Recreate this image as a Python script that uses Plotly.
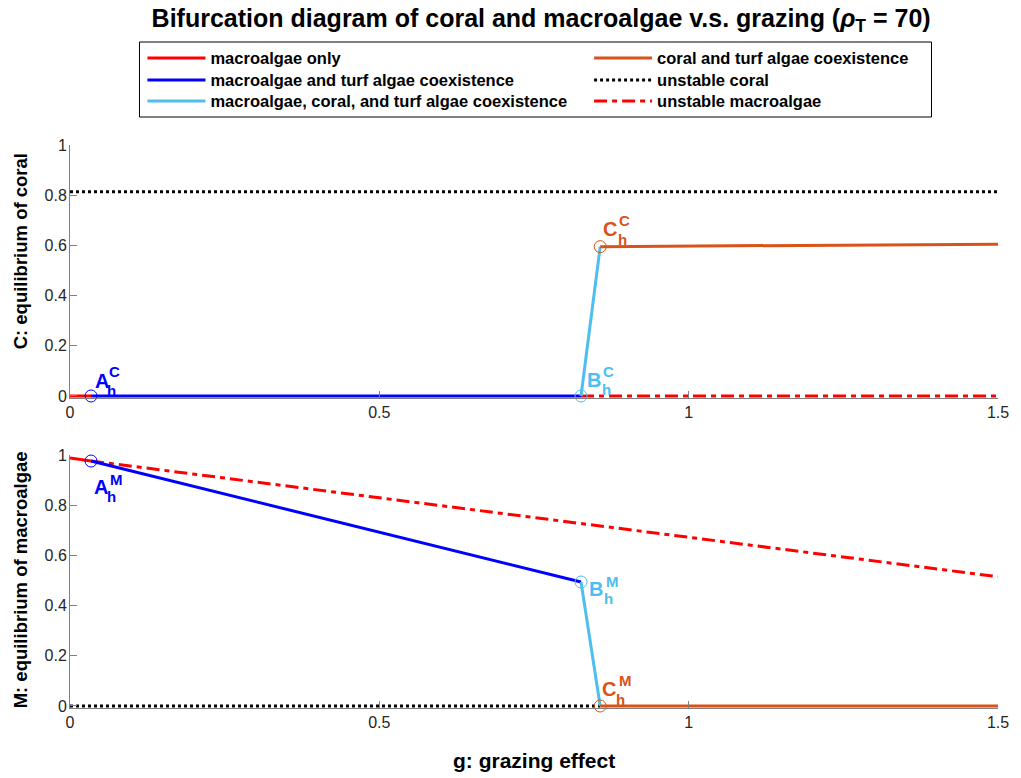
import plotly.graph_objects as go

# ---------------- data ----------------
# bifurcation points (grazing g)
g_A, g_B, g_C = 0.034, 0.826, 0.857

# macroalgae only
g_macro_only = [0.0, 0.034]
C_macro_only = [0.0, 0.0]
M_macro_only = [0.988, 0.976]

# macroalgae and turf algae coexistence
g_macro_turf = [0.034, 0.826]
C_macro_turf = [0.0, 0.0]
M_macro_turf = [0.976, 0.494]

# macroalgae, coral, and turf algae coexistence
g_mct = [0.826, 0.857]
C_mct = [0.0, 0.595]
M_mct = [0.494, 0.0]

# coral and turf algae coexistence
g_coral_turf = [0.857, 1.5]
C_coral_turf = [0.595, 0.605]
M_coral_turf = [0.0, 0.0]

# unstable coral
g_unst_coral_C = [0.0, 1.5]
C_unst_coral = [0.814, 0.814]
g_unst_coral_M = [0.0, 0.857]
M_unst_coral = [0.0, 0.0]

# unstable macroalgae
g_unst_macro_C = [0.826, 1.5]
C_unst_macro = [0.0, 0.0]
g_unst_macro_M = [0.034, 1.5]
M_unst_macro = [0.976, 0.515]

# labelled points: (name, g, C, M)
points = [("A", g_A, 0.0, 0.976), ("B", g_B, 0.0, 0.494), ("C", g_C, 0.595, 0.0)]

x_ticks = [0, 0.5, 1, 1.5]
x_tick_text = ["0", "0.5", "1", "1.5"]
y_ticks = [0, 0.2, 0.4, 0.6, 0.8, 1]
y_tick_text = ["0", "0.2", "0.4", "0.6", "0.8", "1"]

# ---------------- style ----------------
RED = "#FF0000"
BLUE = "#0000FF"
LBLUE = "#4DBEEE"
ORANGE = "#D95319"
BLACK = "#000000"
FONT = "Liberation Sans, Arial, Helvetica, sans-serif"
LW = 3
W, H = 1021, 778
L, R, T, B = 70, 16, 145, 70
plot_h = H - T - B
plot_w = W - L - R

def py(pix):  # pixel y -> paper y
    return (H - B - pix) / plot_h

def px(pix):  # pixel x -> paper x
    return (pix - L) / plot_w

fig = go.Figure()

def add_line(xs, ys, color, name, dash, xa, ya, legend, show):
    fig.add_trace(go.Scatter(
        x=xs, y=ys, mode="lines", name=name,
        line=dict(color=color, width=LW, dash=dash),
        xaxis=xa, yaxis=ya, legend=legend,
        showlegend=show, legendgroup=name, hoverinfo="skip"))

DOT = "3px,3px"
DASHDOT = "13px,5px,5px,5px"

# top panel (C)
add_line(g_unst_coral_C, C_unst_coral, BLACK, "unstable coral", DOT, "x", "y", "legend5", True)
add_line(g_unst_macro_C, C_unst_macro, RED, "unstable macroalgae", DASHDOT, "x", "y", "legend6", True)
add_line(g_macro_only, C_macro_only, RED, "macroalgae only", "solid", "x", "y", "legend", True)
add_line(g_macro_turf, C_macro_turf, BLUE, "macroalgae and turf algae coexistence", "solid", "x", "y", "legend2", True)
add_line(g_mct, C_mct, LBLUE, "macroalgae, coral, and turf algae coexistence", "solid", "x", "y", "legend3", True)
add_line(g_coral_turf, C_coral_turf, ORANGE, "coral and turf algae coexistence", "solid", "x", "y", "legend4", True)

# bottom panel (M)
add_line(g_unst_coral_M, M_unst_coral, BLACK, "unstable coral", DOT, "x2", "y2", "legend5", False)
add_line(g_macro_only, M_macro_only, RED, "macroalgae only", "solid", "x2", "y2", "legend", False)
add_line(g_unst_macro_M, M_unst_macro, RED, "unstable macroalgae", DASHDOT, "x2", "y2", "legend6", False)
add_line(g_macro_turf, M_macro_turf, BLUE, "macroalgae and turf algae coexistence", "solid", "x2", "y2", "legend2", False)
add_line(g_mct, M_mct, LBLUE, "macroalgae, coral, and turf algae coexistence", "solid", "x2", "y2", "legend3", False)
add_line(g_coral_turf, M_coral_turf, ORANGE, "coral and turf algae coexistence", "solid", "x2", "y2", "legend4", False)

pt_colors = {"A": BLUE, "B": LBLUE, "C": ORANGE}
for name, g, c, m in points:
    for xa, ya, val in (("x", "y", c), ("x2", "y2", m)):
        fig.add_trace(go.Scatter(
            x=[g], y=[val], mode="markers", showlegend=False, hoverinfo="skip",
            marker=dict(symbol="circle-open", size=12, color=pt_colors[name],
                        line=dict(width=1, color=pt_colors[name])),
            xaxis=xa, yaxis=ya, cliponaxis=False))

# point labels: letter with subscript h and superscript (C or M)
# offsets in pixels (dx, dy-down) for letter, sup, sub
label_offsets = {
    ("A", "C"): ((11, -15), (23, -24), (20, -5)),
    ("B", "C"): ((13, -16), (27, -24), (25, -6)),
    ("C", "C"): ((10, -18), (24, -26), (22, -7)),
    ("A", "M"): ((10, 26), (25, 18), (20, 35)),
    ("B", "M"): ((15, 7), (31, -1), (27, 16)),
    ("C", "M"): ((9, -17), (25, -25), (20, -6)),
}
for name, g, c, m in points:
    for panel, xa, ya, val in (("C", "x", "y", c), ("M", "x2", "y2", m)):
        (lx, ly), (sx, sy), (hx, hy) = label_offsets[(name, panel)]
        col = pt_colors[name]
        for txt, dx, dy, fs in ((name, lx, ly, 20), (panel, sx, sy, 15), ("h", hx, hy, 15)):
            fig.add_annotation(x=g, y=val, xref=xa, yref=ya, text=f"<b>{txt}</b>",
                               showarrow=False, xshift=dx, yshift=-dy,
                               xanchor="center", yanchor="middle",
                               font=dict(family=FONT, size=fs, color=col))

axis_common = dict(
    showline=True, linecolor="#808080", linewidth=1,
    ticks="inside", ticklen=7, tickcolor="#808080", tickwidth=1,
    showgrid=False, zeroline=False, mirror=False,
    tickfont=dict(family=FONT, size=16, color="#262626"),
)
y_extra = dict(ticklabelstandoff=-1)
top_dom = [py(398), 1.0]
bot_dom = [0.0, py(455)]
fig.update_layout(
    width=W, height=H,
    margin=dict(l=L, r=R, t=T, b=B),
    paper_bgcolor="white", plot_bgcolor="white",
    xaxis=dict(axis_common, domain=[0, 1], range=[0, 1.5], tickvals=x_ticks,
               ticktext=x_tick_text, anchor="y"),
    yaxis=dict(axis_common, domain=top_dom, range=[-0.008, 1], tickvals=y_ticks,
               ticktext=y_tick_text, anchor="x"),
    xaxis2=dict(axis_common, domain=[0, 1], range=[0, 1.5], tickvals=x_ticks,
                ticktext=x_tick_text, anchor="y2"),
    yaxis2=dict(axis_common, domain=bot_dom, range=[-0.008, 1], tickvals=y_ticks,
                ticktext=y_tick_text, anchor="x2"),
    title=dict(text="<b>Bifurcation diagram of coral and macroalgae v.s. grazing (<i>ρ</i><sub>T</sub> = 70)</b>",
               x=0.53, xref="container", xanchor="center",
               y=1 - 18 / H, yref="container", yanchor="middle",
               font=dict(family=FONT, size=25, color="black")),
    showlegend=True,
)
try:
    fig.update_layout(yaxis=y_extra, yaxis2=y_extra)
except Exception:
    pass

# legends: one per entry, laid out as 2 columns x 3 rows
LEG_FS = 16.5
item_h = LEG_FS * 1.3 + 3
row_centers = [58, 80, 101]
col_x = [143, 593]
legend_names = ["legend", "legend2", "legend3", "legend4", "legend5", "legend6"]
for i, lname in enumerate(legend_names):
    col, row = divmod(i, 3)
    fig.update_layout({lname: dict(
        x=px(col_x[col]), y=py(row_centers[row] - item_h / 2 - 5),
        xanchor="left", yanchor="top", orientation="v", itemwidth=58,
        bgcolor="rgba(0,0,0,0)", borderwidth=0,
        font=dict(family=FONT, size=LEG_FS, color="black", weight="bold"))})

# legend frame
fig.add_shape(type="rect", xref="paper", yref="paper",
              x0=px(140), x1=px(938), y0=py(117), y1=py(42),
              line=dict(color="black", width=1), fillcolor="white", layer="below")

# axis titles
fig.add_annotation(text="<b>C: equilibrium of coral</b>", xref="paper", yref="paper",
                   x=px(20), y=py(251), textangle=-90, showarrow=False,
                   xanchor="center", yanchor="middle",
                   font=dict(family=FONT, size=18.5, color="black"))
fig.add_annotation(text="<b>M: equilibrium of macroalgae</b>", xref="paper", yref="paper",
                   x=px(20), y=py(580), textangle=-90, showarrow=False,
                   xanchor="center", yanchor="middle",
                   font=dict(family=FONT, size=18.5, color="black"))
fig.add_annotation(text="<b>g: grazing effect</b>", xref="paper", yref="paper",
                   x=px(538), y=py(760), showarrow=False,
                   xanchor="center", yanchor="middle",
                   font=dict(family=FONT, size=21, color="black"))

fig.write_html("out.html")
